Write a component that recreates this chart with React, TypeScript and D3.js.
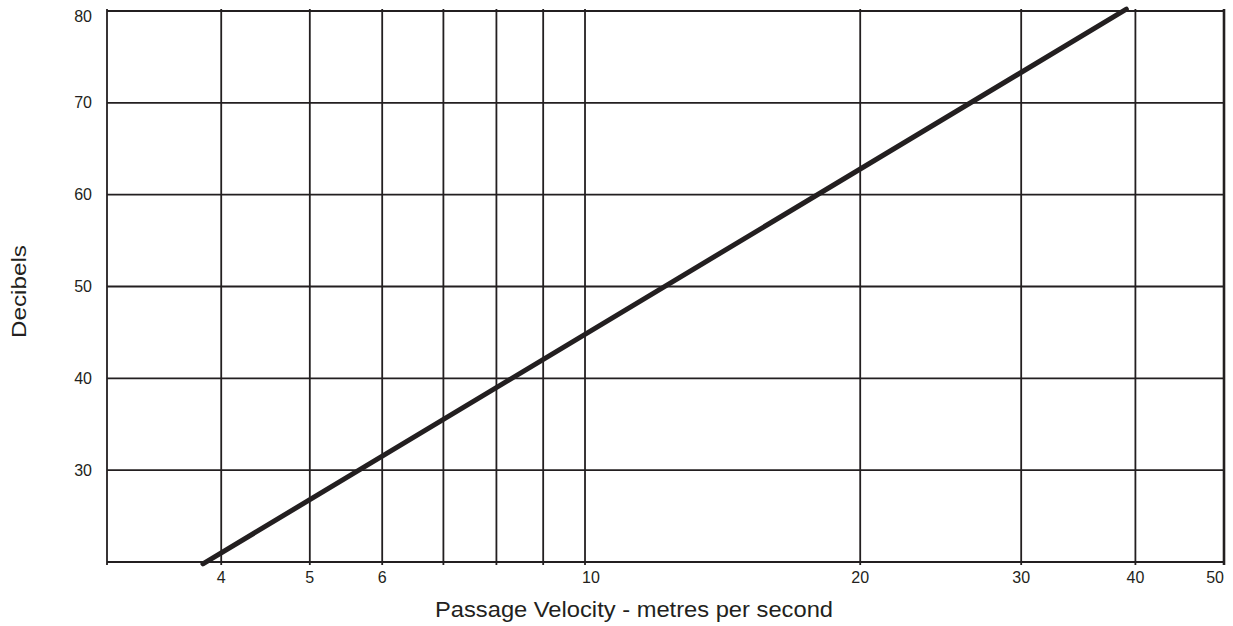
import React, { useEffect, useRef } from "react";
import * as d3 from "d3";

// velocity (m/s) vs sound level (dB)
const velocity = [3.82, 39.1];
const decibels = [19.8, 80.2];

const xGrid = [4, 5, 6, 7, 8, 9, 10, 20, 30, 40, 50];
const xTickLabels = [4, 5, 6, 10, 20, 30, 40, 50];
const yGrid = [30, 40, 50, 60, 70, 80];

const App = () => {
  const svgRef = useRef<SVGSVGElement>(null);

  useEffect(() => {
    const svg = d3.select(svgRef.current);
    svg.selectAll("*").remove();

    const width = 1233;
    const height = 626;
    const margin = { top: 11, right: 9, bottom: 64, left: 107 };
    const ink = "#231f20";
    const font = "'Liberation Sans', Arial, Helvetica, sans-serif";

    const x = d3
      .scaleLog()
      .domain([3, 50])
      .range([margin.left, width - margin.right]);

    const y = d3
      .scaleLinear()
      .domain([20, 80])
      .range([height - margin.bottom, margin.top]);

    const grid = svg.append("g").attr("stroke", ink).attr("stroke-width", 1.8);

    // horizontal grid lines (incl. bottom edge)
    grid
      .selectAll("line.h")
      .data([20, ...yGrid])
      .join("line")
      .attr("class", "h")
      .attr("x1", margin.left)
      .attr("x2", x(50))
      .attr("y1", (d) => y(d))
      .attr("y2", (d) => y(d));

    // vertical grid lines (incl. left edge)
    grid
      .selectAll("line.v")
      .data([3, ...xGrid])
      .join("line")
      .attr("class", "v")
      .attr("x1", (d) => x(d))
      .attr("x2", (d) => x(d))
      .attr("y1", y(80) - 2)
      .attr("y2", y(20) + 3)
      .attr("stroke-width", (d) => (d === 50 ? 2.6 : 1.8));

    // y labels
    svg
      .append("g")
      .selectAll("text")
      .data(yGrid)
      .join("text")
      .attr("x", 92)
      .attr("y", (d) => (d === 80 ? y(d) + 5 : y(d)))
      .attr("dy", "0.35em")
      .attr("text-anchor", "end")
      .attr("font-family", font)
      .attr("font-size", 16)
      .attr("fill", ink)
      .text((d) => d);

    // x labels
    svg
      .append("g")
      .selectAll("text")
      .data(xTickLabels)
      .join("text")
      .attr("x", (d) => (d === 10 ? x(d) + 6 : x(d)))
      .attr("y", 583)
      .attr("text-anchor", (d) => (d === 50 ? "end" : "middle"))
      .attr("font-family", font)
      .attr("font-size", 16)
      .attr("fill", ink)
      .text((d) => d);

    // axis titles
    svg
      .append("text")
      .attr("x", 435)
      .attr("y", 617)
      .attr("textLength", 398)
      .attr("lengthAdjust", "spacingAndGlyphs")
      .attr("font-family", font)
      .attr("font-size", 22)
      .attr("fill", ink)
      .text("Passage Velocity - metres per second");

    svg
      .append("text")
      .attr("transform", "translate(25.5,338) rotate(-90)")
      .attr("textLength", 93)
      .attr("lengthAdjust", "spacingAndGlyphs")
      .attr("font-family", font)
      .attr("font-size", 19.5)
      .attr("fill", ink)
      .text("Decibels");

    // the curve
    const pts = velocity.map((v, i) => [v, decibels[i]] as [number, number]);
    svg
      .append("path")
      .datum(pts)
      .attr("fill", "none")
      .attr("stroke", ink)
      .attr("stroke-width", 5)
      .attr("stroke-linecap", "round")
      .attr(
        "d",
        d3
          .line<[number, number]>()
          .x((d) => x(d[0]))
          .y((d) => y(d[1]))
      );
  }, []);

  return (
    <svg
      ref={svgRef}
      width={1233}
      height={626}
      style={{ position: "absolute", left: 0, top: 0, background: "#fff" }}
    ></svg>
  );
};

export default App;
